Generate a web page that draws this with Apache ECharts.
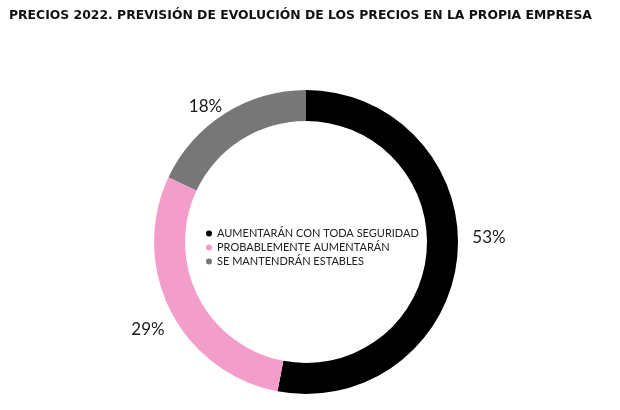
<!DOCTYPE html>
<html>
<head>
<meta charset="utf-8">
<script src="https://cdn.jsdelivr.net/npm/echarts@6/dist/echarts.min.js"></script>
<style>html,body{margin:0;padding:0;background:#fff}#c{width:620px;height:410px}</style>
</head>
<body>
<div id="c"></div>
<script>
const titleText = 'PRECIOS 2022. PREVISIÓN DE EVOLUCIÓN DE LOS PRECIOS EN LA PROPIA EMPRESA';
const categories = ['AUMENTARÁN CON TODA SEGURIDAD', 'PROBABLEMENTE AUMENTARÁN', 'SE MANTENDRÁN ESTABLES'];
const values = [53, 29, 18];
const colors = ['#000000', '#f39dca', '#777777'];

const labelShift = [[0, -20], [8, 14], [8, 1]];

const chart = echarts.init(document.getElementById('c'));
chart.setOption({
  animation: false,
  title: {
    text: titleText,
    left: 4, top: 5,
    textStyle: { fontFamily: 'DejaVu Sans', fontWeight: 'bold', fontSize: 12.4, color: '#111' }
  },
  legend: {
    orient: 'vertical',
    left: 201, top: 223,
    icon: 'circle', itemWidth: 6, itemHeight: 6, itemGap: 3,
    textStyle: { fontFamily: 'Lato', fontSize: 11, color: '#222' },
    data: categories
  },
  series: [{
    type: 'pie',
    center: [306, 242],
    radius: [121, 152],
    startAngle: 90,
    clockwise: true,
    avoidLabelOverlap: false,
    label: {
      show: true, position: 'outside',
      formatter: '{c}%',
      fontFamily: 'Lato', fontSize: 17, color: '#1a1a1a', fontWeight: 'normal'
    },
    labelLine: { show: false, length: 10, length2: 0 },
    labelLayout: function (p) {
      const s = labelShift[p.dataIndex];
      return { dx: s[0], dy: s[1] };
    },
    emphasis: { disabled: true },
    data: categories.map((n, i) => ({ name: n, value: values[i], itemStyle: { color: colors[i] } }))
  }]
});
</script>
</body>
</html>
